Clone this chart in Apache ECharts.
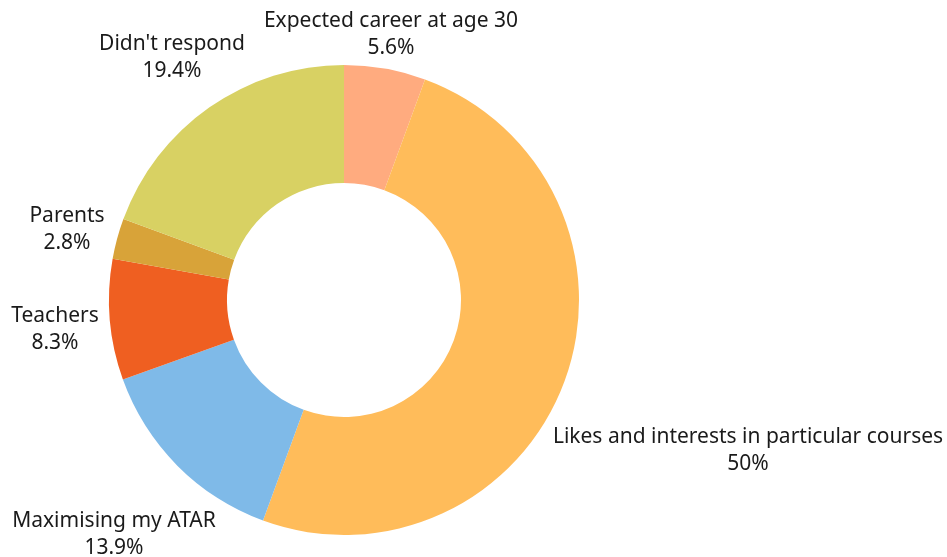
<!DOCTYPE html>
<html>
<head>
<meta charset="utf-8">
<script src="https://cdn.jsdelivr.net/npm/echarts@6/dist/echarts.min.js"></script>
<style>
  html, body { margin: 0; padding: 0; background: #ffffff; }
  #chart { width: 947px; height: 557px; }
</style>
</head>
<body>
<div id="chart"></div>
<script>
const categories = [
  "Expected career at age 30",
  "Likes and interests in particular courses",
  "Maximising my ATAR",
  "Teachers",
  "Parents",
  "Didn't respond"
];
const values = [5.6, 50, 13.9, 8.3, 2.8, 19.4];
const colors = ["#FFAB7F", "#FFBC5A", "#7FBAE8", "#EF5F21", "#D8A339", "#D8D163"];

// label block centres relative to the pie centre (layout only)
const labelOffsets = [
  [47, -265],
  [404, 151],
  [-230, 235],
  [-289, 30],
  [-277, -70],
  [-172, -242]
];
const CX = 344, CY = 300;

const chart = echarts.init(document.getElementById('chart'));
chart.setOption({
  animation: false,
  backgroundColor: '#ffffff',
  series: [{
    type: 'pie',
    center: [CX, CY],
    radius: [117, 235],
    startAngle: 90,
    clockwise: true,
    avoidLabelOverlap: false,
    data: categories.map((c, i) => ({
      name: c,
      value: values[i],
      itemStyle: { color: colors[i] }
    })),
    label: {
      show: true,
      position: 'outside',
      formatter: '{b}\n{c}%',
      fontFamily: 'Noto Sans',
      fontSize: 21,
      lineHeight: 27,
      color: '#1a1a1a',
      align: 'center'
    },
    labelLine: { show: false },
    labelLayout: function (params) {
      const o = labelOffsets[params.dataIndex];
      return {
        x: CX + o[0],
        y: CY + o[1],
        align: 'center',
        verticalAlign: 'middle'
      };
    },
    emphasis: { disabled: true }
  }]
});
</script>
</body>
</html>
